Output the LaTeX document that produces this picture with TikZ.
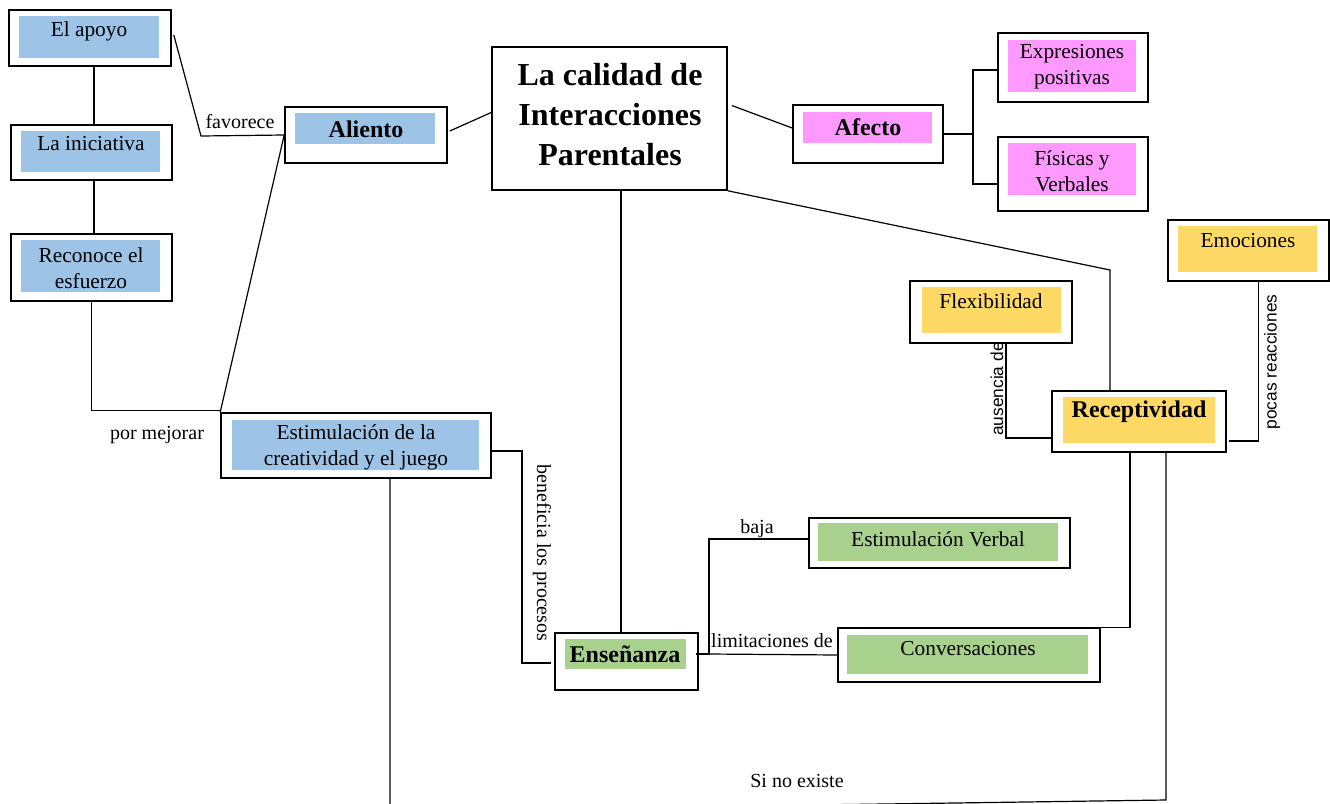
\documentclass[tikz,border=0pt]{standalone}
\usepackage{fontspec}
\setmainfont{Liberation Serif}
\newfontfamily\arialf{Liberation Sans}
\usetikzlibrary{fit,calc}

\definecolor{azul}{RGB}{157,195,230}
\definecolor{rosa}{RGB}{255,153,255}
\definecolor{amar}{RGB}{255,217,102}
\definecolor{verde}{RGB}{169,209,142}

\tikzset{every picture/.style={line width=0.9pt}}
\tikzset{
  caja/.style={draw, line width=1.2pt, fill=white, inner sep=0pt},
  txt/.style={inner sep=0.75pt, align=center, font=\fontsize{16}{19.5}\selectfont},
  txtb/.style={inner sep=0.75pt, align=center, font=\fontsize{18}{22}\selectfont\bfseries},
  lbl/.style={inner sep=0.75pt, font=\fontsize{15}{18}\selectfont},
  lbls/.style={inner sep=0.75pt, font=\arialf\fontsize{13}{16}\selectfont},
}

\begin{document}
\begin{tikzpicture}[x=0.75pt,y=0.75pt,yscale=-1,xscale=1]
\useasboundingbox (0,0) rectangle (1330,803);
\clip (0,0) rectangle (1330,803);

%Shape: Rectangle (outer boxes)
\node[caja, fit={(9,10) (171,66)}] (apoyo) {};
\node[caja, fit={(11,125) (172,180)}] (inic) {};
\node[caja, fit={(11,234) (172,301)}] (recon) {};
\node[caja, fit={(285,107) (447,163)}] (aliento) {};
\node[caja, fit={(492,47) (727,190)}] (calidad) {};
\node[caja, fit={(793,105) (943,163)}] (afecto) {};
\node[caja, fit={(998,33) (1148,102)}] (expr) {};
\node[caja, fit={(998,137) (1148,211)}] (fisicas) {};
\node[caja, fit={(1168,220) (1329,281)}] (emoc) {};
\node[caja, fit={(910,281) (1072,343)}] (flex) {};
\node[caja, fit={(1052,391) (1226,452)}] (recep) {};
\node[caja, fit={(221,413) (491,478)}] (estim) {};
\node[caja, fit={(555,633) (698,690)}] (ense) {};
\node[caja, fit={(809,518) (1070,568)}] (verbal) {};
\node[caja, fit={(838,628) (1100,682)}] (conv) {};

%Shape: Rectangle (fills)
\fill[azul] (19,16) rectangle (159,58);
\fill[azul] (21,131) rectangle (160,172);
\fill[azul] (21,240) rectangle (160,292);
\fill[azul] (295,113) rectangle (435,144);
\fill[azul] (232,420) rectangle (479,470);
\fill[rosa] (803,112) rectangle (932,143);
\fill[rosa] (1008,40) rectangle (1136,92);
\fill[rosa] (1008,143) rectangle (1136,195);
\fill[amar] (1178,226) rectangle (1317,272);
\fill[amar] (922,287) rectangle (1061,333);
\fill[amar] (1063,397) rectangle (1215,443);
\fill[verde] (565,639) rectangle (686,669);
\fill[verde] (818,523) rectangle (1058,561);
\fill[verde] (847,635) rectangle (1088,674);

%Connectors
\coordinate (fav) at (201,136);
\coordinate (aff) at (973,134);
\coordinate (crec) at (1110,270);
\coordinate (bene) at (522,663);
\coordinate (cbaja) at (709,654);
\coordinate (sinoA) at (390,811);
\coordinate (sinoB) at (1166,800);
\draw ($(apoyo.south)+(4,-1)$) -- ($(inic.north)+(2.5,1)$);
\draw ($(inic.south)+(2.5,-1)$) -- ($(recon.north)+(2.5,1)$);
\draw ($(apoyo.east)+(2,-3)$) -- (fav) -- (aliento.west);
\draw (aliento.west) -- (estim.north west);
\draw (recon.south) |- ($(estim.north west)+(0,-2)$);
\draw ($(aliento.east)+(2,-4)$) -- ($(calidad.west)+(0,-6)$);
\draw ($(calidad.east)+(4,-13)$) -- ($(afecto.west)+(0,-6)$);
\draw (afecto.east) -- (aff);
\draw (expr.west |- 0,70) -| (aff) |- (fisicas.west |- 0,184);
\draw ($(calidad.south)+(11.5,0)$) -- ($(ense.north)+(-5.5,0)$);
\draw (calidad.south east) -- (crec) -- ($(recep.north)+(-29,0)$);
\draw ($(flex.south)+(15,0)$) |- ($(recep.west)+(0,16.5)$);
\draw ($(emoc.south)+(10,0)$) |- ($(recep.east)+(2,19.5)$);
\draw ($(estim.east)+(0,5.5)$) -| (bene) -- ($(ense.west)+(-3,1.5)$);
\draw ($(ense.east)+(-3,-7.5)$) -- (cbaja) |- ($(verbal.west)+(0,-4)$);
\draw (cbaja) -- (conv.west);
\draw ($(recep.south)+(-9,0)$) |- ($(conv.north east)+(-8,0)$);
\draw ($(estim.south)+(34,0)$) -- (sinoA) -- (sinoB) -- ($(recep.south)+(27,0)$);

% texts
\node[txt] (tApoyo) at (89,31) {El apoyo};
\node[txt] (tInic) at (91,144) {La iniciativa};
\node[txt] (tRecon) at (91,268) {Reconoce el\\esfuerzo};
\node[txtb] (tAliento) at (366,129) {Aliento};
\node[inner sep=0.75pt, align=center, font=\fontsize{24}{30}\selectfont\bfseries] (tCal) at (610,115) {La calidad de\\Interacciones\\Parentales};
\node[txtb] (tAfecto) at (868,127) {Afecto};
\node[txt] (tExpr) at (1072,67) {Expresiones\\positivas};
\node[txt] (tFis) at (1072,171) {Físicas y\\Verbales};
\node[txt] (tEmoc) at (1248,241) {Emociones};
\node[txt] (tFlex) at (991,301) {Flexibilidad};
\node[txtb] (tRecep) at (1139,412) {Receptividad};
\node[txt] (tEstim) at (356,447) {Estimulación de la\\creatividad y el juego};
\node[txtb] (tEnse) at (625,654) {Enseñanza};
\node[txt] (tVerbal) at (938,539) {Estimulación Verbal};
\node[txt] (tConv) at (968,649) {Conversaciones};

% labels
\node[lbl] (lFav) at (240,122) {favorece};
\node[lbl] (lMej) at (157,435) {por mejorar};
\node[lbl, rotate=-90] (lBene) at (542,553) {beneficia los procesos};
\node[lbl] (lBaja) at (757,529) {baja};
\node[lbl] (lLim) at (772,641) {limitaciones de};
\node[lbls, rotate=90] (lAus) at (997,389) {ausencia de};
\node[lbls, rotate=90] (lPocas) at (1272,362) {pocas reacciones};
\node[lbl] (lSino) at (797,781) {Si no existe};
\end{tikzpicture}
\end{document}
